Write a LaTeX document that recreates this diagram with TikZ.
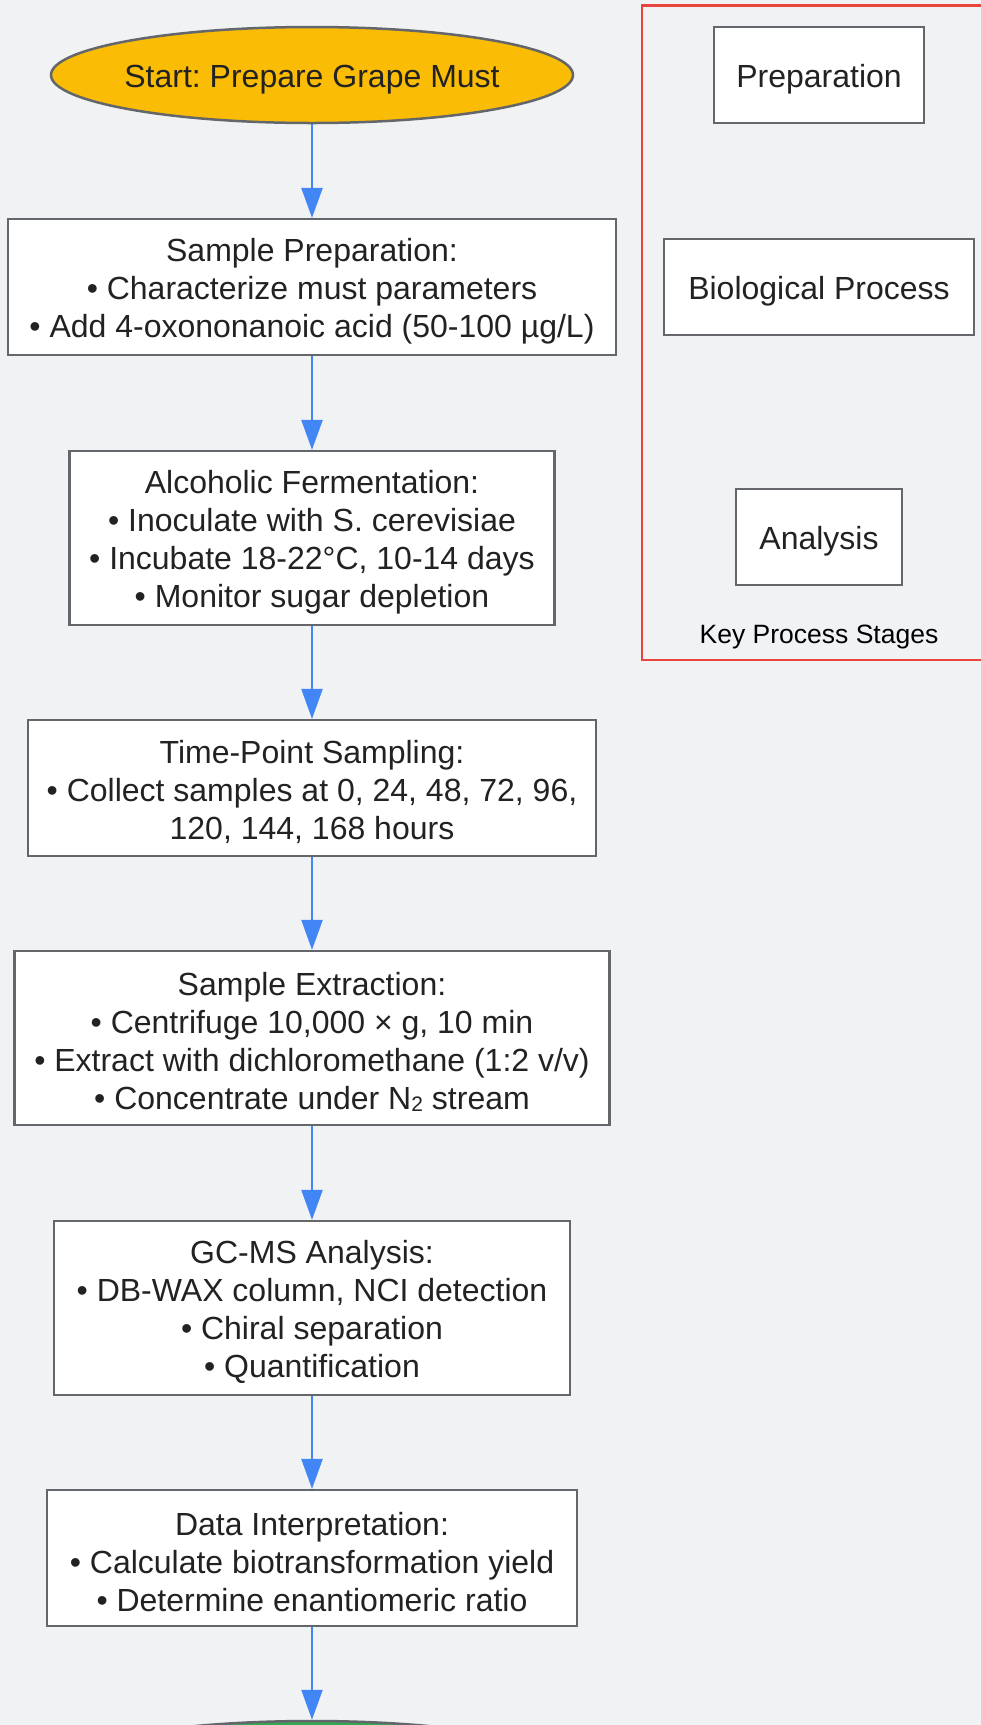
\documentclass[tikz,border=0pt]{standalone}
\usepackage{fontspec}
\setmainfont{Liberation Sans}
\frenchspacing
\usetikzlibrary{arrows.meta,shapes.geometric}
\definecolor{bg}{HTML}{F1F2F4}
\definecolor{edgegray}{HTML}{63666A}
\definecolor{arrowblue}{HTML}{4285F4}
\definecolor{startyellow}{HTML}{FBBC05}
\definecolor{endgreen}{HTML}{34A853}
\definecolor{legendred}{HTML}{E8453C}
\definecolor{txt}{HTML}{222222}
\tikzset{
  mainfont/.style={font=\fontsize{32}{38}\selectfont\frenchspacing, text=txt},
  stepbox/.style={draw=edgegray, line width=2.2pt, fill=white, rectangle, inner sep=0pt, align=center, mainfont},
  terminal/.style={draw=edgegray, line width=2.5pt, ellipse, inner sep=0pt, align=center, mainfont},
  arr/.style={draw=arrowblue, line width=2.2pt, -{Triangle[length=30pt,width=21pt]}},
}
\newcommand{\subtwo}{\raisebox{-0.05em}{\fontsize{21}{21}\selectfont 2}}
\newcommand{\tp}{\rule{0pt}{31pt}}
\begin{document}
\begin{tikzpicture}[x=1pt,y=-1pt]
\useasboundingbox (0,0) rectangle (981,1725);
\begin{scope}
\clip (0,0) rectangle (981,1725);
\fill[bg] (0,0) rectangle (981,1725);

% legend frame
\draw[legendred, line width=2.2pt] (642,5.5) rectangle (1010,660);
\node[stepbox, minimum width=210pt, minimum height=96pt] (lprep) at (819,75) {\tp Preparation};
\node[stepbox, minimum width=310pt, minimum height=96pt] (lbio) at (819,287) {\tp Biological Process};
\node[stepbox, minimum width=166pt, minimum height=96pt] (lana) at (819,537) {\tp Analysis};
\node[font=\fontsize{26.5}{30}\selectfont, text=black, inner sep=0pt] (lkey) at (819,637) {Key Process Stages};

% main flow
\node[terminal, fill=startyellow, minimum width=522pt, minimum height=96pt] (start) at (312,75) {\makebox[0pt]{\tp Start: Prepare Grape Must}};
\node[stepbox, minimum width=608pt, minimum height=136pt] (b1) at (312,287)
  {\tp Sample Preparation:\\ • Characterize must parameters\\ • Add 4-oxononanoic acid (50-100 µg/L)};
\node[stepbox, minimum width=485pt, minimum height=174pt] (b2) at (312,538)
  {\tp Alcoholic Fermentation:\\ • Inoculate with S. cerevisiae\\ • Incubate 18-22°C, 10-14 days\\ • Monitor sugar depletion};
\node[stepbox, minimum width=568pt, minimum height=136pt] (b3) at (312,788)
  {\tp Time-Point Sampling:\\ • Collect samples at 0, 24, 48, 72, 96,\\ 120, 144, 168 hours};
\node[stepbox, minimum width=595pt, minimum height=174pt] (b4) at (312,1038)
  {\tp Sample Extraction:\\ • Centrifuge 10,000 × g, 10 min\\ • Extract with dichloromethane (1:2 v/v)\\ • Concentrate under N\subtwo{} stream};
\node[stepbox, minimum width=516pt, minimum height=174pt] (b5) at (312,1308)
  {\tp GC-MS Analysis:\\ • DB-WAX column, NCI detection\\ • Chiral separation\\ • Quantification};
\node[stepbox, minimum width=530pt, minimum height=136pt] (b6) at (312,1558)
  {\tp Data Interpretation:\\ • Calculate biotransformation yield\\ • Determine enantiomeric ratio};
\node[terminal, fill=endgreen, minimum width=522pt, minimum height=96pt] (end) at (312,1769) {};

\draw[arr] (start) -- (b1);
\draw[arr] (b1) -- (b2);
\draw[arr] (b2) -- (b3);
\draw[arr] (b3) -- (b4);
\draw[arr] (b4) -- (b5);
\draw[arr] (b5) -- (b6);
\draw[arr] (b6) -- (end);
\end{scope}
\end{tikzpicture}
\end{document}
